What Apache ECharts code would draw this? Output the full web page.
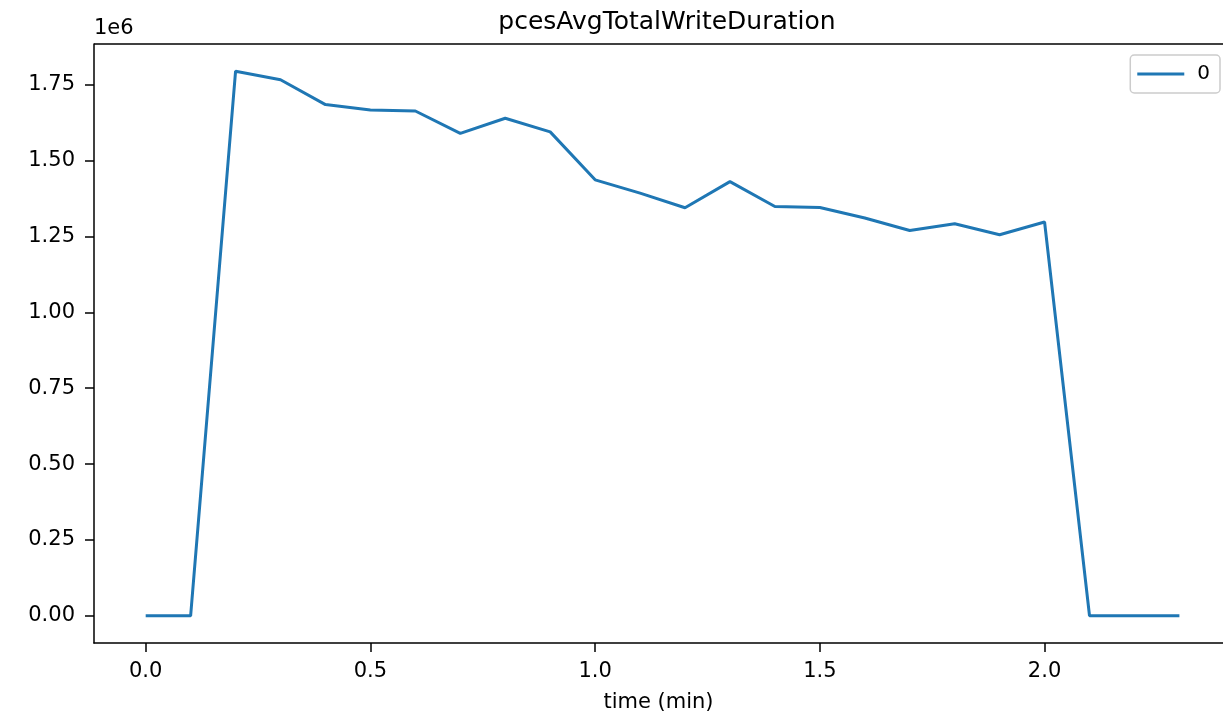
<!DOCTYPE html>
<html>
<head>
<meta charset="utf-8">
<script src="https://cdn.jsdelivr.net/npm/echarts@6/dist/echarts.min.js"></script>
<style>html,body{margin:0;padding:0;background:#fff;}#c{width:1223px;height:720px;}</style>
</head>
<body>
<div id="c"></div>
<script>
const titleText = 'pcesAvgTotalWriteDuration';
const seriesName = '0';
const xLabel = 'time (min)';
const times = [0.0,0.1,0.2,0.3,0.4,0.5,0.6,0.7,0.8,0.9,1.0,1.1,1.2,1.3,1.4,1.5,1.6,1.7,1.8,1.9,2.0,2.1,2.2,2.3];
const values = [0,0,1795000,1767000,1685000,1667000,1664000,1590000,1640000,1595000,1437000,1393000,1345000,1431000,1349000,1346000,1311000,1270000,1292000,1256000,1298000,0,0,0];
const xTicks = [0.0,0.5,1.0,1.5,2.0];
const yTicks = [0,250000,500000,750000,1000000,1250000,1500000,1750000];

const font = 'DejaVu Sans';
const chart = echarts.init(document.getElementById('c'), null, {renderer:'canvas'});
chart.setOption({
  animation:false,
  backgroundColor:'#ffffff',
  textStyle:{fontFamily:font},
  title:{text:titleText,left:662,textAlign:'center',top:5,textStyle:{fontFamily:font,fontSize:25,fontWeight:'normal',color:'#000'}},
  legend:{
    data:[{name:seriesName,icon:'rect'}],
    right:3, top:55,
    itemWidth:47, itemHeight:3, itemGap:10,
    borderColor:'#cccccc', borderWidth:1.5, borderRadius:4,
    padding:[9,10,9,7],
    textStyle:{fontFamily:font,fontSize:20,color:'#000',padding:[0,0,0,8]}
  },
  grid:{left:94, right:0, top:44, bottom:77, containLabel:false},
  xAxis:{
    type:'value', min:-0.115, max:2.397,
    name:xLabel, nameLocation:'middle', nameGap:49,
    nameTextStyle:{fontFamily:font,fontSize:21,color:'#000'},
    axisLine:{show:true,onZero:false,lineStyle:{color:'#000',width:1.5}},
    axisTick:{show:true,length:9,customValues:xTicks,lineStyle:{color:'#000',width:1.5}},
    axisLabel:{customValues:xTicks,fontFamily:font,fontSize:21,color:'#000',margin:18,formatter:v=>v.toFixed(1)},
    splitLine:{show:false}
  },
  yAxis:{
    type:'value', min:-89750, max:1884750,
    name:'1e6', nameLocation:'end', nameGap:5,
    nameTextStyle:{fontFamily:font,fontSize:21,color:'#000',align:'left',verticalAlign:'bottom'},
    axisLine:{show:true,onZero:false,lineStyle:{color:'#000',width:1.5}},
    axisTick:{show:true,length:9,customValues:yTicks,lineStyle:{color:'#000',width:1.5}},
    axisLabel:{customValues:yTicks,fontFamily:font,fontSize:21,color:'#000',margin:19,formatter:v=>(v/1e6).toFixed(2)},
    splitLine:{show:false}
  },
  graphic:[{type:'line',shape:{x1:94,y1:44,x2:1223,y2:44},style:{stroke:'#000',lineWidth:1.5},silent:true}],
  series:[{
    name:seriesName, type:'line',
    data:times.map((t,i)=>[t,values[i]]),
    showSymbol:false, symbol:'none',
    lineStyle:{color:'#1f77b4',width:3},
    itemStyle:{color:'#1f77b4'}
  }]
});
</script>
</body>
</html>
